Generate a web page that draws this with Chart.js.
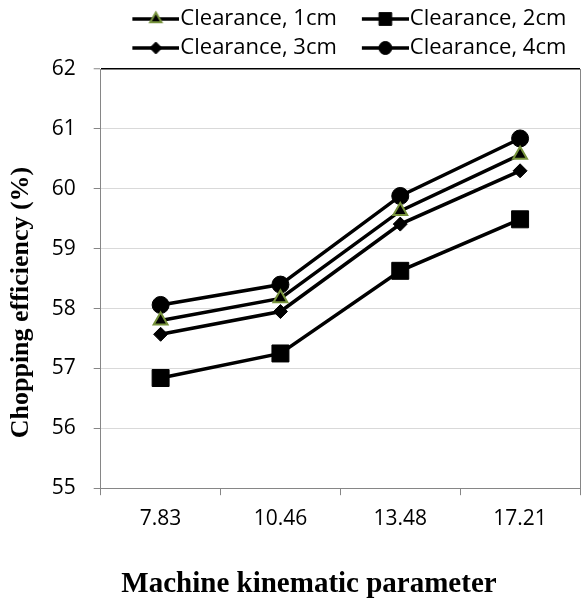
<!DOCTYPE html>
<html><head><meta charset="utf-8">
<script src="https://cdn.jsdelivr.net/npm/chart.js@4"></script>
<style>html,body{margin:0;padding:0;background:#fff;}canvas{display:block;}</style>
</head><body>
<canvas id="c" width="581" height="604"></canvas>
<script>
// ---- data ----
const categories = ["7.83", "10.46", "13.48", "17.21"];
const seriesNames = ["Clearance, 1cm", "Clearance, 2cm", "Clearance, 3cm", "Clearance, 4cm"];
const clearance1 = [57.80, 58.17, 59.63, 60.57];
const clearance2 = [56.84, 57.25, 58.63, 59.49];
const clearance3 = [57.57, 57.95, 59.41, 60.30];
const clearance4 = [58.06, 58.40, 59.88, 60.84];
const yMin = 55, yMax = 62, yStep = 1;
const xTitle = "Machine kinematic parameter";
const yTitle = "Chopping efficiency (%)";

// ---- styles ----
const markerStyles = ["triangle", "rect", "rectRot", "circle"];
const markerRadius = [8, 12, 7, 8.5];
const markerBorder = ["#77933C", "#000", "#000", "#000"];
const markerBorderW = [2, 1, 1, 1];
const legendRadius = [6.5, 9, 6, 6.5];

function drawMarker(g, style, r, x, y) {
  g.beginPath();
  if (style === "triangle") {
    for (let k = 0; k < 3; k++) {
      const a = -Math.PI / 2 + k * 2 * Math.PI / 3;
      const px = x + Math.cos(a) * r, py = y + Math.sin(a) * r;
      k ? g.lineTo(px, py) : g.moveTo(px, py);
    }
    g.closePath();
  } else if (style === "rect") {
    const s = r * Math.SQRT1_2;
    g.rect(x - s, y - s, 2 * s, 2 * s);
  } else if (style === "rectRot") {
    g.moveTo(x, y - r); g.lineTo(x + r, y); g.lineTo(x, y + r); g.lineTo(x - r, y); g.closePath();
  } else {
    g.arc(x, y, r, 0, Math.PI * 2);
  }
}

function legendIcon(i) {
  const L = 28, lineLen = 47, W = L + lineLen, H = 24;
  const cv = document.createElement("canvas");
  cv.width = W; cv.height = H;
  const g = cv.getContext("2d");
  g.strokeStyle = "#000"; g.lineWidth = 3.5;
  g.beginPath(); g.moveTo(L, H / 2); g.lineTo(W, H / 2); g.stroke();
  g.fillStyle = "#000";
  drawMarker(g, markerStyles[i], legendRadius[i], L + lineLen / 2, H / 2);
  g.fill();
  g.strokeStyle = markerBorder[i]; g.lineWidth = markerBorderW[i];
  g.stroke();
  return cv;
}
const icons = [0, 1, 2, 3].map(legendIcon);

const seriesValues = [clearance1, clearance2, clearance3, clearance4];
const datasets = seriesValues.map((vals, i) => ({
  label: seriesNames[i],
  data: vals,
  borderColor: "#000",
  borderWidth: 3.5,
  backgroundColor: "#000",
  pointStyle: markerStyles[i],
  pointRadius: markerRadius[i],
  pointHoverRadius: markerRadius[i],
  pointBackgroundColor: "#000",
  pointBorderColor: markerBorder[i],
  pointBorderWidth: markerBorderW[i],
  tension: 0,
  fill: false
}));

const tickFont = { family: "'Open Sans'", size: 21 };

new Chart(document.getElementById("c"), {
  type: "line",
  data: { labels: categories, datasets },
  options: {
    responsive: false,
    animation: false,
    devicePixelRatio: 1,
    layout: { autoPadding: false, padding: { top: 1, left: 0, right: -37, bottom: 0 } },
    plugins: {
      tooltip: { enabled: false },
      legend: {
        position: "top",
        fullSize: false,
        labels: {
          usePointStyle: true,
          pointStyleWidth: 55,
          padding: 7,
          color: "#000",
          font: { family: "'Open Sans'", size: 22 },
          generateLabels: (chart) => {
            const items = Chart.defaults.plugins.legend.labels.generateLabels(chart);
            items.forEach((it) => { it.pointStyle = icons[it.datasetIndex]; it.fontColor = "#000"; });
            return items;
          }
        }
      },
      subtitle: {
        display: true,
        text: yTitle,
        position: "left",
        color: "#000",
        font: { family: "'Liberation Serif'", size: 26, weight: "bold" },
        padding: { top: 6, bottom: 0 }
      },
      title: {
        display: true,
        text: xTitle,
        position: "bottom",
        color: "#000",
        font: { family: "'Liberation Serif'", size: 29, weight: "bold" },
        padding: { top: 19, bottom: 2 }
      }
    },
    scales: {
      x: {
        type: "category",
        offset: true,
        grid: { offset: true, drawOnChartArea: false, tickLength: 7, color: "#868686", tickColor: "#868686" },
        border: { color: "#868686", width: 1 },
        ticks: { color: "#000", font: tickFont, padding: 11, maxRotation: 0 },
        afterFit: (s) => { s.height = 60; }
      },
      y: {
        min: yMin, max: yMax,
        ticks: { stepSize: yStep, color: "#000", font: tickFont, padding: 18 },
        grid: {
          color: (c) => (c.tick && c.tick.value === yMax ? "#000" : "#d9d9d9"),
          lineWidth: (c) => (c.tick && c.tick.value === yMax ? 1.5 : 1),
          tickLength: 7, tickColor: "#868686", tickWidth: 1
        },
        border: { color: "#868686", width: 1 },
        afterFit: (s) => { s.width = 63.5; }
      },
      y2: {
        position: "right",
        display: true,
        grid: { drawOnChartArea: false, drawTicks: false },
        ticks: { display: false },
        border: { display: true, color: "#868686", width: 1 },
        afterFit: (s) => { s.width = 38; }
      }
    }
  }
});
</script>
</body></html>
